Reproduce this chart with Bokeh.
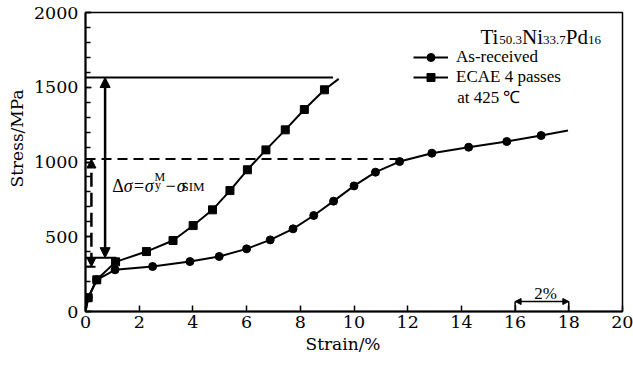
from math import pi
from bokeh.plotting import figure
from bokeh.models import (Range1d, SingleIntervalTicker, Label, Arrow, NormalHead,
                          Legend, LegendItem, Title)
from bokeh.embed import file_html
from bokeh.resources import INLINE

# ---------------- data ----------------
strain_ar = [0, 0.10, 0.42, 1.10, 2.50, 3.89, 4.98, 6.00, 6.88, 7.73, 8.50, 9.24,
             10.0, 10.8, 11.7, 12.9, 14.27, 15.69, 16.97, 17.97]
stress_ar = [0, 92, 212, 279, 301, 334, 368, 419, 479, 553, 642, 738,
             840, 932, 1003, 1059, 1099, 1137, 1177, 1211]

strain_ecae = [0, 0.10, 0.42, 1.12, 2.27, 3.26, 4.01, 4.73, 5.38, 6.03, 6.72,
               7.44, 8.15, 8.90, 9.43]
stress_ecae = [0, 92, 212, 332, 401, 475, 575, 680, 809, 948, 1081,
               1215, 1351, 1483, 1556]

# reference levels (MPa)
sigma_y_ecae = 1565
sigma_sim_ecae = 360
sigma_y_ar = 1020
sigma_sim_ar = 300

FONT = "Liberation Serif"
AXFONT = "DejaVu Serif"

# frame geometry helpers (pixel -> data) for annotation placement
L, R, T, B = 85, 622, 12, 311
def X(px):
    return (px - L) / (R - L) * 20.0
def Y(py):
    return (B - py) / (B - T) * 2000.0

p = figure(width=633, height=365, output_backend="svg", toolbar_location=None,
           x_range=Range1d(0, 20), y_range=Range1d(0, 2000),
           min_border_left=L, min_border_right=633 - R,
           min_border_top=T, min_border_bottom=365 - B)
p.grid.visible = False
p.background_fill_color = "white"
p.border_fill_color = "white"
p.outline_line_color = "black"
p.outline_line_width = 1.5

p.xaxis.ticker = SingleIntervalTicker(interval=2, num_minor_ticks=0)
p.yaxis.ticker = SingleIntervalTicker(interval=500, num_minor_ticks=5)
for ax in (p.xaxis[0], p.yaxis[0]):
    ax.axis_line_width = 2
    ax.axis_line_color = "black"
    ax.major_tick_in = 6
    ax.major_tick_out = 0
    ax.minor_tick_in = 5
    ax.minor_tick_out = 0
    ax.major_tick_line_width = 1.5
    ax.minor_tick_line_width = 1.5
    ax.major_tick_line_color = "black"
    ax.minor_tick_line_color = "black"
    ax.major_label_text_font = AXFONT
    ax.major_label_text_font_style = "normal"
    ax.major_label_text_font_size = "17.5px"
    ax.major_label_text_color = "black"
p.xaxis[0].major_label_standoff = 4
p.yaxis[0].major_label_standoff = 7

# axis titles
p.add_layout(Title(text="Stress/MPa", align="left", offset=124, standoff=6,
                   vertical_align="middle", text_font=AXFONT, text_font_size="17px",
                   text_font_style="normal", text_color="black"), "left")
p.add_layout(Title(text="Strain/%", align="left", offset=220, standoff=4,
                   vertical_align="middle", text_font=AXFONT, text_font_size="17px",
                   text_font_style="normal", text_color="black"), "below")

# reference lines
p.line([0, 9.22], [sigma_y_ecae, sigma_y_ecae], line_color="black", line_width=2)
p.line([0, 1.15], [sigma_sim_ecae, sigma_sim_ecae], line_color="black", line_width=2)
p.line([0, 11.7], [sigma_y_ar, sigma_y_ar], line_color="black", line_width=2, line_dash="10 6")
p.line([0, 0.6], [sigma_sim_ar, sigma_sim_ar], line_color="black", line_width=2, line_dash="10 6")

# curves
l_ar = p.line(strain_ar, stress_ar, line_color="black", line_width=2)
s_ar = p.scatter(strain_ar[1:-1], stress_ar[1:-1], marker="circle", size=8,
                 fill_color="black", line_color="black")
l_ec = p.line(strain_ecae, stress_ecae, line_color="black", line_width=2)
s_ec = p.scatter(strain_ecae[1:-1], stress_ecae[1:-1], marker="square", size=8,
                 fill_color="black", line_color="black")

# double arrows
p.add_layout(Arrow(x_start=0.73, y_start=sigma_sim_ecae, x_end=0.73, y_end=sigma_y_ecae,
                   start=NormalHead(size=10, fill_color="black", line_color="black"),
                   end=NormalHead(size=10, fill_color="black", line_color="black"),
                   line_width=2.5, line_color="black"))
p.add_layout(Arrow(x_start=0.22, y_start=sigma_sim_ar, x_end=0.22, y_end=sigma_y_ar,
                   start=NormalHead(size=9, fill_color="black", line_color="black"),
                   end=NormalHead(size=9, fill_color="black", line_color="black"),
                   line_width=2.5, line_color="black", line_dash="14 6"))

# 2 % scale bar
p.segment([16, 18], [0, 0], [16, 18], [Y(301), Y(301)], line_color="black", line_width=1.5)
p.add_layout(Arrow(x_start=16, y_start=Y(301), x_end=18, y_end=Y(301),
                   start=NormalHead(size=6, fill_color="black", line_color="black"),
                   end=NormalHead(size=6, fill_color="black", line_color="black"),
                   line_width=1.5, line_color="black"))

def lab(px, py, text, size, style="normal", align="left", baseline="alphabetic", angle=0):
    p.add_layout(Label(x=X(px), y=Y(py), text=text, text_font=FONT,
                       text_font_size=f"{size}px", text_font_style=style,
                       text_align=align, text_baseline=baseline, angle=angle,
                       text_color="black"))

lab(545, 293, "2%", 17, align="center")

# composition title
lab(480, 36, "Ti", 21)
lab(498.7, 39.5, "50.3", 13)
lab(521.5, 36, "Ni", 21)
lab(542.5, 39.5, "33.7", 13)
lab(565.2, 36, "Pd", 21)
lab(587.4, 39.5, "16", 13)

# delta sigma annotation
lab(111.7, 185, "\u0394", 18)
lab(123.3, 185, "\u03c3=\u03c3", 18, style="italic")
lab(154, 176.5, "M", 12)
lab(154.5, 184, "y", 12)
lab(164, 185, "\u2212\u03c3", 18, style="italic")
lab(181, 186, "SIM", 13)

# legend
legend = Legend(items=[LegendItem(label="As-received", renderers=[l_ar, s_ar]),
                       LegendItem(label="ECAE 4 passes", renderers=[l_ec, s_ec])],
                location=(413 - L, B - 46.7 - 40), padding=0, margin=0, spacing=0,
                glyph_width=35, glyph_height=20, label_height=20, label_standoff=8,
                label_text_font=FONT, label_text_font_size="17px",
                label_text_color="black", border_line_color=None,
                background_fill_alpha=0)
p.add_layout(legend)
lab(456.7, 97, "at 425 \u2103", 17, baseline="middle")

open("out.html", "w").write(file_html(p, INLINE))
